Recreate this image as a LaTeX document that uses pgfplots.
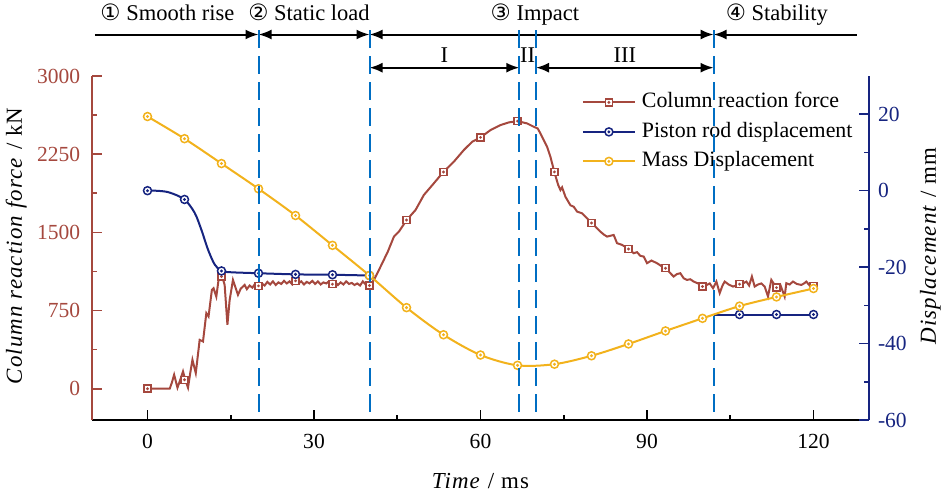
\documentclass[border=0pt]{standalone}
\usepackage{fontspec}
\setmainfont{Liberation Serif}
\newfontfamily\symfont{DejaVu Sans}
\usepackage{pgfplots}
\usepackage{pgfplotstable}
\pgfplotsset{compat=1.18}
\usetikzlibrary{arrows.meta}
\definecolor{cForce}{RGB}{165,72,62}
\definecolor{cPiston}{RGB}{22,36,128}
\definecolor{cMass}{RGB}{242,178,28}
\definecolor{cDash}{RGB}{0,110,195}

\pgfdeclareplotmark{sqdot}{%
  \pgfpathrectangle{\pgfqpoint{-\pgfplotmarksize}{-\pgfplotmarksize}}{\pgfqpoint{2\pgfplotmarksize}{2\pgfplotmarksize}}%
  \pgfusepathqfillstroke
  \pgfpathcircle{\pgfpointorigin}{0.15\pgfplotmarksize}%
  \pgfusepathqstroke
}
\pgfdeclareplotmark{circdot}{%
  \pgfpathcircle{\pgfpointorigin}{\pgfplotmarksize}%
  \pgfusepathqfillstroke
  \pgfpathcircle{\pgfpointorigin}{0.15\pgfplotmarksize}%
  \pgfusepathqstroke
}

\pgfplotsset{
  every non boxed x axis/.style={},
  every non boxed y axis/.style={},
  /pgf/number format/assume math mode=true,
  /pgf/number format/1000 sep={},
}
\tikzset{arr/.tip={Latex[length=6.5bp,width=5bp]}}

% Column reaction force (kN) vs time (ms)
\pgfplotstableread{
x y
0 0
1 0
2 0
3 0
4 0
4.4 60
4.8 134
5.4 10
6.0 100
6.4 166
6.8 86
7.3 10
7.7 150
8.1 278
8.7 150
9.4 469
10.0 453
10.6 725
11.0 693
11.6 948
11.9 964
12.4 884
12.8 1044
13.3 1108
13.9 996
14.4 613
14.8 850
15.4 1044
15.8 980
16.3 900
16.8 960
17.5 996
17.9 955
18.4 990
18.9 970
19.3 1000
20.0 987
20.6 1010
21.1 990
21.6 1025
22.1 1000
22.6 1030
23.1 995
23.6 1020
24.1 1005
24.6 1035
25.1 1010
25.6 1030
26.1 1000
26.7 1040
27.2 1010
27.7 1030
28.2 1000
28.7 1025
29.2 1010
29.7 1035
30.2 1005
30.7 1030
31.2 1000
31.7 1020
32.2 1010
32.7 1030
33.3 1003
33.8 1025
34.3 995
34.8 1020
35.3 1000
35.8 1030
36.3 1005
36.8 1015
37.3 995
37.8 1010
38.3 990
38.8 1030
39.3 1000
40.0 990
40.8 1044
42.0 1172
43.3 1315
44.4 1459
45.3 1507
46.7 1619
48.3 1715
49.8 1859
51.6 1971
53.3 2079
55.2 2178
57.0 2290
58.5 2369
60.0 2411
61.8 2481
63.6 2529
65.1 2555
66.7 2567
68.4 2545
69.6 2513
70.3 2497
70.8 2449
71.4 2385
72.0 2321
72.6 2225
73.3 2080
74.0 1954
74.4 1906
74.7 1932
75.3 1842
76.2 1760
76.8 1746
77.4 1699
78.3 1683
79.2 1635
80.0 1590
81.0 1539
81.6 1507
82.2 1480
82.8 1459
84.0 1475
84.6 1396
85.5 1380
86.7 1341
87.6 1300
88.2 1310
88.8 1275
89.4 1268
90.0 1204
90.8 1230
91.8 1204
92.5 1180
93.3 1156
94.0 1120
94.8 1076
95.4 1100
96.0 1108
96.6 1060
97.2 1044
97.8 1050
98.4 1028
99.2 1010
100.0 980
100.4 1000
100.8 996
101.3 1010
101.9 964
102.5 1028
103.1 917
103.6 990
104.0 1028
104.7 1000
105.5 980
106.7 1003
107.3 1010
107.9 1028
108.4 990
108.9 1076
109.4 980
110.0 1000
110.6 1010
111.2 980
111.8 884
112.4 1044
113.3 970
114.0 1000
114.8 884
115.1 1012
115.7 1000
116.3 1028
117.0 1005
117.8 996
118.3 1010
118.7 1028
119.3 990
120.0 987
}\forcedata

\pgfplotstableread{
x y
0 0
6.67 86
13.33 1076
20 987
26.67 1035
33.33 1003
40 990
46.67 1619
53.33 2079
60 2411
66.67 2567
73.33 2080
80 1590
86.67 1341
93.33 1156
100 980
106.67 1003
113.33 970
120 987
}\forcemarks

\pgfplotstableread{
x y
0 0
2 -0.05
4 -0.5
6.67 -2.3
8.5 -5.8
9.7 -10.2
10.9 -15.4
12.1 -19.3
13.33 -21.0
15.1 -21.35
20 -21.6
26.67 -21.9
33.33 -22.0
40 -22.2
}\pistonA

\pgfplotstableread{
x y
102 -32.4
106.67 -32.4
113.33 -32.4
120 -32.4
}\pistonB

\pgfplotstableread{
x y
0 0
6.67 -2.3
13.33 -21.0
20 -21.6
26.67 -21.9
33.33 -22.0
40 -22.2
106.67 -32.4
113.33 -32.4
120 -32.4
}\pistonmarks

\pgfplotstableread{
x y
0 19.4
6.67 13.6
13.33 7.1
20 0.5
26.67 -6.5
33.33 -14.3
40 -22.2
46.67 -30.6
53.33 -37.7
60 -43.0
66.67 -45.7
73.33 -45.4
80 -43.2
86.67 -40.1
93.33 -36.7
100 -33.4
106.67 -30.2
113.33 -27.8
120 -25.6
}\massdata

\begin{document}
\begin{tikzpicture}
\begin{axis}[
  scale only axis, width=388.5bp, height=172bp,
  xmin=-10, xmax=130, ymin=-300, ymax=3000,
  axis x line*=bottom, axis y line*=left,
  x axis line style={-, black, line width=0.8bp},
  y axis line style={-, cForce, line width=0.8bp},
  xtick={0,30,...,120}, minor x tick num=1,
  ytick={0,750,...,3000}, minor y tick num=1,
  tick align=inside,
  major tick length=5bp, minor tick length=2.5bp,
  x tick style={black, line width=0.8bp},
  y tick style={cForce, line width=0.8bp},
  ticklabel style={font=\fontsize{10.8}{13}\selectfont},
  x tick label style={yshift=-3.5bp},
  y tick label style={cForce, xshift=-2.4bp},
  clip=false,
]
\addplot[cForce, line width=1bp, no markers, forget plot] table {\forcedata};
\addplot[only marks, mark=sqdot, mark size=1.75bp, mark options={cForce, fill=white, line width=0.75bp}, forget plot] table {\forcemarks};

\coordinate (LL) at (rel axis cs:0,0);
\coordinate (dtA) at (axis cs:20,3440);
\coordinate (dbA) at (axis cs:20,-300);
\coordinate (dtB) at (axis cs:40,3440);
\coordinate (dbB) at (axis cs:40,-300);
\coordinate (dtC) at (axis cs:67,3440);
\coordinate (dbC) at (axis cs:67,-300);
\coordinate (dtD) at (axis cs:70,3440);
\coordinate (dbD) at (axis cs:70,-300);
\coordinate (dtE) at (axis cs:102,3440);
\coordinate (dbE) at (axis cs:102,-300);

% phase annotations
\draw[line width=1bp, -arr] (axis cs:-9.5,3398) -- (axis cs:20,3398);
\draw[line width=1bp, arr-arr] (axis cs:20,3398) -- (axis cs:40,3398);
\draw[line width=1bp, arr-arr] (axis cs:40,3398) -- (axis cs:102,3398);
\draw[line width=1bp, arr-] (axis cs:102,3398) -- (axis cs:127.8,3398);
\draw[line width=1bp, arr-arr] (axis cs:40,3080) -- (axis cs:67,3080);
\draw[line width=1bp, arr-arr] (axis cs:70,3080) -- (axis cs:102,3080);

\node[anchor=base, inner sep=0pt, font=\fontsize{11.3}{13}\selectfont] at (axis cs:3.6,3528) {{\symfont ①} Smooth rise};
\node[anchor=base, inner sep=0pt, font=\fontsize{11.3}{13}\selectfont] at (axis cs:29.1,3528) {{\symfont ②} Static load};
\node[anchor=base, inner sep=0pt, font=\fontsize{11.3}{13}\selectfont] at (axis cs:69.8,3528) {{\symfont ③} Impact};
\node[anchor=base, inner sep=0pt, font=\fontsize{11.3}{13}\selectfont] at (axis cs:113.4,3528) {{\symfont ④} Stability};
\node[anchor=base, inner sep=0pt, font=\fontsize{11.3}{13}\selectfont] at (axis cs:53.5,3125) {I};
\node[anchor=base, inner sep=0pt, font=\fontsize{11.3}{13}\selectfont] at (axis cs:68.5,3125) {II};
\node[anchor=base, inner sep=0pt, font=\fontsize{11.3}{13}\selectfont] at (axis cs:86,3125) {III};

% axis labels
\node[rotate=90, anchor=base, inner sep=0pt, font=\fontsize{11.5}{14}\selectfont\addfontfeatures{LetterSpace=5}] at (rel axis cs:-0.0901,0.506) {\textit{Column reaction force} / kN};
\node[anchor=base, inner sep=0pt, font=\fontsize{11.5}{14}\selectfont\addfontfeatures{LetterSpace=5}] at (rel axis cs:0.5,-0.198) {\textit{Time} / ms};
\end{axis}

\begin{axis}[
  scale only axis, width=388.5bp, height=172bp,
  xmin=-10, xmax=130, ymin=-60, ymax=30,
  hide x axis,
  axis y line*=right,
  ytick pos=right, yticklabel pos=right,
  y axis line style={-, cPiston, line width=0.8bp},
  ytick={-60,-40,...,20}, minor y tick num=1,
  tick align=inside,
  major tick length=5bp, minor tick length=2.5bp,
  y tick style={cPiston, line width=0.8bp},
  ticklabel style={font=\fontsize{10.8}{13}\selectfont},
  y tick label style={cPiston, xshift=1bp},
  clip=false,
  legend image code/.code={\draw[mark repeat=2,mark phase=2,#1] plot coordinates {(0bp,0bp)(13bp,0bp)(26bp,0bp)};},
  legend style={at={(rel axis cs:0.630,0.955)}, anchor=north west, draw=none, fill=none,
    inner sep=0pt, row sep=4.25bp,
    font=\fontsize{11}{13}\selectfont,
    nodes={inner sep=0pt, text height=8bp, text depth=2.5bp},
    /tikz/every odd column/.append style={column sep=3bp}},
  legend cell align=left,
]
\addplot[cPiston, line width=1bp, smooth, no markers, forget plot] table {\pistonA};
\addplot[cPiston, line width=1bp, no markers, forget plot] table {\pistonB};
\addplot[only marks, mark=circdot, mark size=2bp, mark options={cPiston, fill=white, line width=0.75bp}, forget plot] table {\pistonmarks};
\addplot[cMass, line width=1bp, smooth, no markers, forget plot] table {\massdata};
\addplot[only marks, mark=circdot, mark size=2bp, mark options={cMass, fill=white, line width=0.75bp}, forget plot] table {\massdata};

\addlegendimage{cForce, line width=1bp, mark=sqdot, mark size=1.75bp, mark options={fill=white, line width=0.75bp}}
\addlegendentry{Column reaction force}
\addlegendimage{cPiston, line width=1bp, mark=circdot, mark size=2bp, mark options={fill=white, line width=0.75bp}}
\addlegendentry{Piston rod displacement}
\addlegendimage{cMass, line width=1bp, mark=circdot, mark size=2bp, mark options={fill=white, line width=0.75bp}}
\addlegendentry{Mass Displacement}

\node[rotate=90, anchor=base, inner sep=0pt, font=\fontsize{11.5}{14}\selectfont\addfontfeatures{LetterSpace=5}] at (rel axis cs:1.086,0.506) {\textit{Displacement} / mm};
\end{axis}

\draw[cDash, line width=1bp, dash pattern=on 9bp off 4bp] (dtA) -- (dbA);
\draw[cDash, line width=1bp, dash pattern=on 9bp off 4bp] (dtB) -- (dbB);
\draw[cDash, line width=1bp, dash pattern=on 9bp off 4bp] (dtC) -- (dbC);
\draw[cDash, line width=1bp, dash pattern=on 9bp off 4bp] (dtD) -- (dbD);
\draw[cDash, line width=1bp, dash pattern=on 9bp off 4bp] (dtE) -- (dbE);

\pgfresetboundingbox
\path (LL) ++(-46bp,-36bp) rectangle ++(472bp,246bp);
\end{tikzpicture}
\end{document}
